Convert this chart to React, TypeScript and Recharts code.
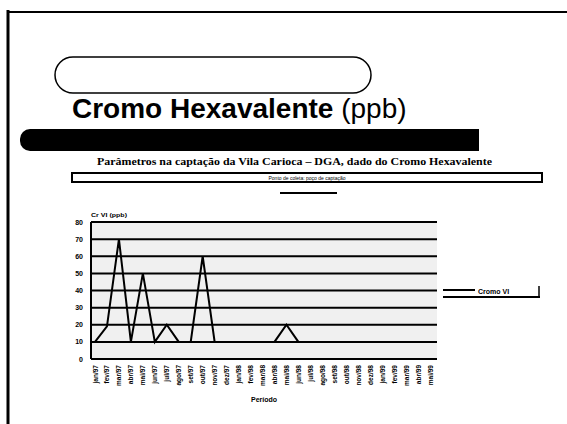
import { LineChart, Line, XAxis, YAxis, CartesianGrid, Legend } from 'recharts'

// meses de coleta (eixo X)
const MESES = [
    'jan/97', 'fev/97', 'mar/97', 'abr/97', 'mai/97', 'jun/97', 'jul/97', 'ago/97', 'set/97', 'out/97',
    'nov/97', 'dez/97', 'jan/98', 'fev/98', 'mar/98', 'abr/98', 'mai/98', 'jun/98', 'jul/98', 'ago/98',
    'set/98', 'out/98', 'nov/98', 'dez/98', 'jan/99', 'fev/99', 'mar/99', 'abr/99', 'mai/99',
]

// Cromo hexavalente (ppb)
const CR6 = [10, 19, 70, 10, 50, 10, 20, 10, 10, 60, 10, 10, 10, 10, 10, 10, 20, 10, 10, 10, 10, 10, 10, 10, 10, 10, 10, 10, 10]

const Y_TICKS = [0, 10, 20, 30, 40, 50, 60, 70, 80]

const data = MESES.map((mes, i) => ({ mes, cr6: CR6[i] }))

const FONT = "'Liberation Sans', Arial, sans-serif"

function MesTick({ x, y, payload }: any) {
    return (
        <text
            x={x}
            y={y}
            transform={`rotate(-90 ${x} ${y})`}
            textAnchor="end"
            dominantBaseline="central"
            style={{ fill: '#000', fontSize: 6.5, fontWeight: 700, fontFamily: FONT }}
        >
            {payload.value}
        </text>
    )
}

function ValorTick({ x, y, payload }: any) {
    return (
        <text
            x={x}
            y={y}
            textAnchor="end"
            dominantBaseline="central"
            style={{ fill: '#000', fontSize: 7, fontWeight: 700, fontFamily: FONT }}
        >
            {payload.value}
        </text>
    )
}

function LegendBox() {
    return (
        <svg width={100} height={20}>
            <line x1={1} y1={4} x2={33} y2={4} stroke="#000" strokeWidth={2} />
            <text x={36} y={8} style={{ fill: '#000', fontSize: 7, fontWeight: 700, fontFamily: FONT }}>
                Cromo VI
            </text>
            <line x1={1} y1={11} x2={98} y2={11} stroke="#000" strokeWidth={2} />
            <line x1={97} y1={0} x2={97} y2={12} stroke="#000" strokeWidth={1.5} />
        </svg>
    )
}

function Slide() {
    return (
        <svg width={567} height={424} style={{ position: 'absolute', left: 0, top: 0 }}>
            <line x1={8} y1={12} x2={567} y2={12} stroke="#000" strokeWidth={2} />
            <line x1={8} y1={10} x2={8} y2={424} stroke="#000" strokeWidth={3} />
            <rect x={55} y={57} width={316} height={36} rx={18} fill="none" stroke="#000" strokeWidth={1.5} />
            <text x={72} y={118} style={{ fontFamily: FONT, fontSize: 28 }} fill="#000">
                <tspan fontWeight={700}>Cromo Hexavalente</tspan>
                <tspan> (ppb)</tspan>
            </text>
            <rect x={20} y={129} width={459} height={22} rx={10} fill="#000" />
            <rect x={460} y={129} width={19} height={22} fill="#000" />
            <text
                x={97}
                y={165}
                textLength={395}
                lengthAdjust="spacingAndGlyphs"
                style={{ fontFamily: "'Liberation Serif', serif", fontSize: 10, fontWeight: 700 }}
                fill="#000"
            >
                Parâmetros na captação da Vila Carioca – DGA, dado do Cromo Hexavalente
            </text>
            <rect x={72} y={173} width={470} height={9} fill="none" stroke="#000" strokeWidth={2} />
            <text x={307} y={180} textAnchor="middle" style={{ fontFamily: FONT, fontSize: 5 }} fill="#000">
                Ponto de coleta: poço de captação
            </text>
            <line x1={280} y1={193} x2={337} y2={193} stroke="#000" strokeWidth={2} />
            <text
                x={91}
                y={217}
                textLength={36}
                lengthAdjust="spacingAndGlyphs"
                style={{ fontFamily: FONT, fontSize: 6, fontWeight: 700 }}
                fill="#000"
            >
                Cr VI (ppb)
            </text>
            <text x={264} y={402} textAnchor="middle" style={{ fontFamily: FONT, fontSize: 7, fontWeight: 700 }} fill="#000">
                Período
            </text>
        </svg>
    )
}

export default function App() {
    return (
        <div style={{ position: 'absolute', left: 0, top: 0, width: 567, height: 424, background: '#fff', overflow: 'hidden' }}>
            <Slide />
            <div style={{ position: 'absolute', left: 0, top: 0 }}>
                <LineChart width={567} height={424} data={data} margin={{ top: 222, right: 130, left: 60, bottom: 25 }}>
                    <CartesianGrid yAxisId="l" vertical={false} stroke="#000" strokeWidth={2} fill="#f0f0f0" strokeOpacity={1} />
                    <XAxis
                        dataKey="mes"
                        interval={0}
                        height={40}
                        padding={{ left: 4, right: 7 }}
                        tickLine={false}
                        tickSize={4}
                        axisLine={{ stroke: '#000', strokeWidth: 2 }}
                        tick={<MesTick />}
                    />
                    <YAxis
                        yAxisId="l"
                        width={31}
                        domain={[0, 80]}
                        ticks={Y_TICKS}
                        interval={0}
                        tickLine={false}
                        tickMargin={2}
                        axisLine={{ stroke: '#000', strokeWidth: 2 }}
                        tick={<ValorTick />}
                    />
                    <YAxis
                        yAxisId="r"
                        orientation="right"
                        width={0}
                        domain={[0, 80]}
                        tick={false}
                        tickLine={false}
                        axisLine={{ stroke: '#000', strokeWidth: 2 }}
                    />
                    <Legend
                        layout="horizontal"
                        verticalAlign="middle"
                        align="center"
                        wrapperStyle={{ left: 442, top: 286, width: 100 }}
                        content={() => <LegendBox />}
                    />
                    <Line
                        yAxisId="l"
                        type="linear"
                        dataKey="cr6"
                        name="Cromo VI"
                        stroke="#000"
                        strokeWidth={2}
                        dot={false}
                        isAnimationActive={false}
                    />
                </LineChart>
            </div>
        </div>
    )
}
